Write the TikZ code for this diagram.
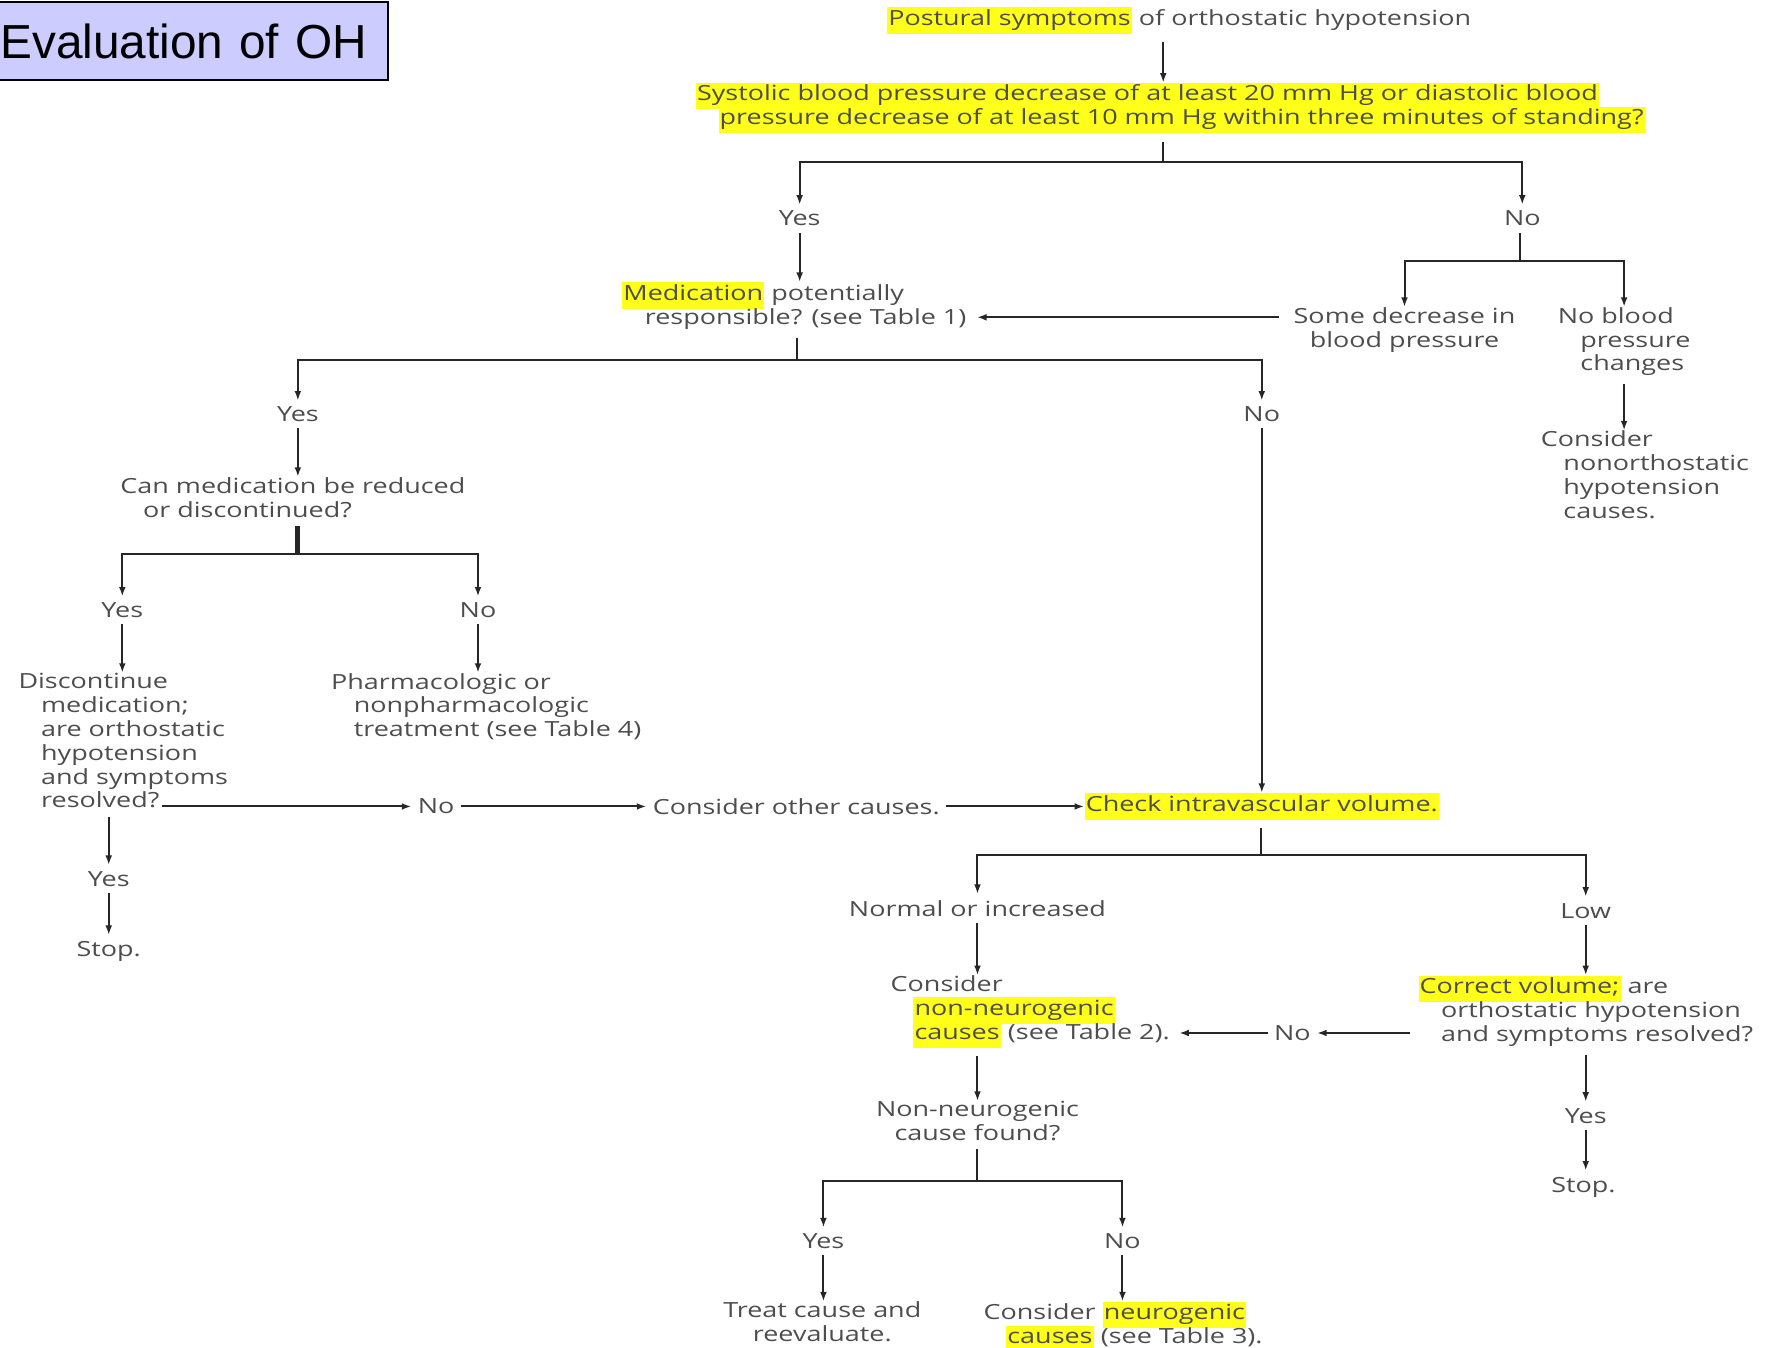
\documentclass[tikz,border=0pt]{standalone}
\usepackage{fontspec}
\setmainfont{Open Sans}[FakeStretch=1.29]
\newfontfamily\titlefont{Liberation Sans}
\usetikzlibrary{arrows.meta,positioning}
\definecolor{hlyellow}{HTML}{FFFF1A}
\definecolor{txtgray}{HTML}{4D4D4D}
\definecolor{titlefill}{HTML}{CCCCFF}
\newcommand{\hl}[1]{{\setlength{\fboxsep}{0.6pt}\colorbox{hlyellow}{\strut#1}}}
\newcommand{\ind}{\hspace*{0.4cm}}
\newcommand{\fs}{\fontsize{10.5}{12}\selectfont\lineskiplimit=-4pt\relax}

\begin{document}
\begin{tikzpicture}[x=0.02cm, y=-0.02cm,
  txt/.style={inner sep=0pt, align=left, text=txtgray, font=\fs},
  lbl/.style={inner sep=3pt, text=txtgray, font=\fs},
  titlebox/.style={draw=black, line width=1pt, fill=titlefill, minimum width=6.9cm, minimum height=1.38cm,
    text width=6.8cm, align=left, inner sep=0.05cm, font=\titlefont\fontsize{24}{28}\selectfont},
  link/.style={line width=1pt, black!85},
  arr/.style={link, -{Latex[length=4.8pt,width=3.4pt]}},
  gap/.style={shorten <=4pt}]
\useasboundingbox (0,0) rectangle (1568,1190);

\node[titlebox, anchor=north west] (title) at (-3,1) {Evaluation of OH};

% top of the chart
\node[txt] (post) at (1041,18) {\hl{Postural symptoms} of orthostatic hypotension};
\node[txt, anchor=north west] (sys) at (614,73)
  {\hl{Systolic blood pressure decrease of at least 20 mm Hg or diastolic blood}\\
   \ind\hl{pressure decrease of at least 10 mm Hg within three minutes of standing?}};
\node[lbl] (yes1) at (706,193) {Yes};
\node[lbl] (no1) at (1344,193) {No};
\node[txt, anchor=north west] (med) at (549,249) {\hl{Medication} potentially\\\ind responsible? (see Table 1)};
\node[txt, align=center, anchor=north] (some) at (1240,271) {Some decrease in\\blood pressure};
\node[txt, anchor=north west] (nobp) at (1375,271) {No blood\\\ind pressure\\\ind changes};
\node[txt, anchor=north west] (nonorth) at (1360,380) {Consider\\\ind nonorthostatic\\\ind hypotension\\\ind causes.};

% medication branch
\node[lbl] (yes2) at (263,366) {Yes};
\node[lbl] (no2) at (1114,366) {No};
\node[txt, anchor=north west] (canmed) at (106,421) {Can medication be reduced\\\ind or discontinued?};
\node[lbl] (yes3) at (108,539) {Yes};
\node[lbl] (no3) at (422,539) {No};
\node[txt, anchor=north west] (disc) at (16,594)
  {Discontinue\\\ind medication;\\\ind are orthostatic\\\ind hypotension\\\ind and symptoms\\\ind resolved?};
\node[txt, anchor=north west] (pharm) at (292,594) {Pharmacologic or\\\ind nonpharmacologic\\\ind treatment (see Table 4)};
\coordinate (resq) at (143,712);
\node[lbl] (no4) at (385,712) {No};
\node[lbl] (other) at (703,712) {Consider other causes.};
\node[txt] (check) at (1114,712) {\hl{Check intravascular volume.}};
\node[lbl] (yes4) at (96,776) {Yes};
\node[lbl] (stop1) at (96,840) {Stop.};

% volume branch
\node[lbl] (normc) at (863,802) {Normal or increased};
\node[lbl] (low) at (1400,804) {Low};
\node[txt, anchor=north west] (consN) at (786,861) {Consider\\\ind\hl{non-neurogenic}\\\ind\hl{causes} (see Table 2).};
\node[txt, anchor=north west] (corr) at (1252,861) {\hl{Correct volume;} are\\\ind orthostatic hypotension\\\ind and symptoms resolved?};
\node[lbl] (no5) at (1141,912) {No};
\node[lbl] (yes5) at (1400,985) {Yes};
\node[lbl] (stop2) at (1398,1048) {Stop.};
\node[txt, align=center, anchor=north] (nnf) at (863,972) {Non-neurogenic\\cause found?};
\node[lbl] (yes6) at (727,1096) {Yes};
\node[lbl] (no6) at (991,1096) {No};
\node[txt, align=center, anchor=north] (treat) at (726,1149) {Treat cause and\\reevaluate.};
\node[txt, anchor=north west] (consNeu) at (868,1149) {Consider \hl{neurogenic}\\\ind\hl{causes} (see Table 3).};

% junctions
\coordinate (j1) at (1027,143);
\coordinate (j2) at (1342,230);
\coordinate (j3) at (704,318);
\coordinate (j4) at (263,489);
\coordinate (j5) at (1113,755);
\coordinate (j6) at (863,1043);

% connectors
\draw[arr, gap] (post.south -| j1) -- (sys.north -| j1);
\draw[link, gap] (sys.south -| j1) -- (j1);
\draw[arr] (j1) -| (yes1.north);
\draw[arr] (j1) -| (no1.north);
\draw[arr] (yes1.south) -- (med.north -| yes1);
\draw[link] (no1.south -| j2) -- (j2);
\draw[arr] (j2) -| (some.north);
\draw[arr] (j2) -| (nobp.north);
\draw[arr] ([xshift=-0.25cm,yshift=0.22cm]some.west) -- ([xshift=0.18cm,yshift=0.22cm]some.west -| med.east);
\draw[arr, gap] (nobp.south) -- (nonorth.north -| nobp.south);
\draw[link, gap] (med.south -| j3) -- (j3);
\draw[arr] (j3) -| (yes2.north);
\draw[arr] (j3) -| (no2.north);
\draw[arr] (yes2.south) -- (canmed.north -| yes2);
\draw[link, line width=2.5pt, gap] (canmed.south -| j4) -- (j4);
\draw[arr] (j4) -| (yes3.north);
\draw[arr] (j4) -| (no3.north);
\draw[arr] (yes3.south) -- (disc.north -| yes3);
\draw[arr] (no3.south) -- (pharm.north -| no3);
\draw[arr] (resq) -- (no4.west |- resq);
\draw[arr] (no4.east) -- (other.west |- no4.east);
\draw[arr] (other.east) -- (check.west |- other.east);
\draw[arr] (no2.south) -- (check.north -| no2);
\draw[arr, gap] (disc.south -| yes4) -- (yes4.north);
\draw[arr] (yes4.south) -- (stop1.north -| yes4);
\draw[link, gap] (check.south -| j5) -- (j5);
\draw[arr] (j5) -| (normc.north);
\draw[arr] (j5) -| (low.north);
\draw[arr] (normc.south) -- (consN.north -| normc);
\draw[arr] (low.south) -- (corr.north -| low);
\draw[arr] ([xshift=-0.14cm]corr.west |- no5) -- (no5.east);
\draw[arr] (no5.west) -- ([xshift=0.16cm]consN.east |- no5);
\draw[arr, gap] (consN.south -| normc) -- (nnf.north);
\draw[arr, gap] (corr.south -| low) -- (yes5.north -| low);
\draw[arr] (yes5.south -| low) -- (stop2.north -| low);
\draw[link, gap] (nnf.south) -- (j6);
\draw[arr] (j6) -| (yes6.north);
\draw[arr] (j6) -| (no6.north);
\draw[arr] (yes6.south) -- (treat.north -| yes6);
\draw[arr] (no6.south) -- (consNeu.north -| no6);
\end{tikzpicture}
\end{document}
